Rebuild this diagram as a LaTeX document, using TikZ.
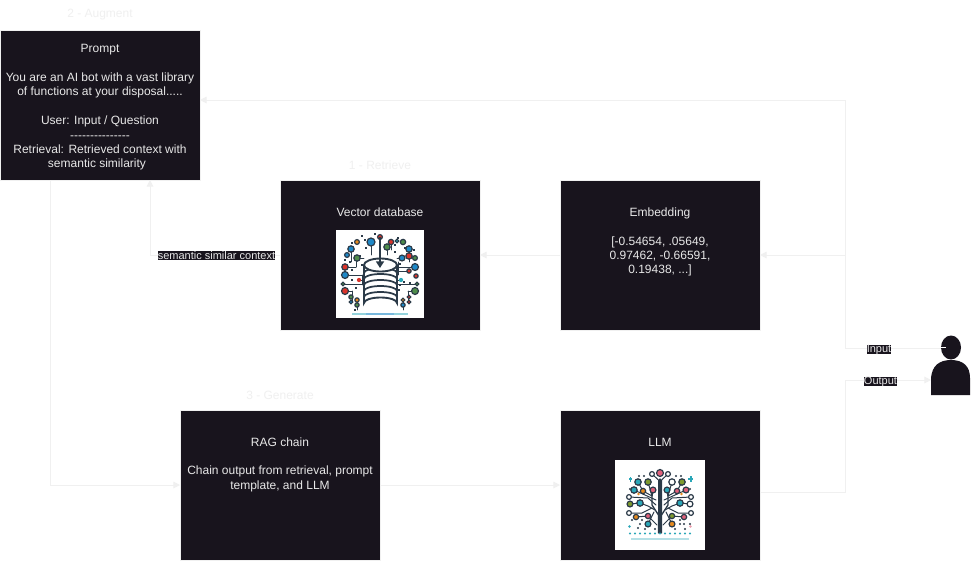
\documentclass[tikz,border=0pt]{standalone}
\usepackage{fontspec}
\setmainfont{Liberation Sans}
\usetikzlibrary{calc,arrows.meta}
\definecolor{boxdark}{HTML}{18141D}
\definecolor{pale}{HTML}{F0F0F0}
\definecolor{boxtext}{HTML}{E8E8E8}
\definecolor{icondark}{HTML}{2B3A48}
\definecolor{ired}{HTML}{D9342B}
\definecolor{iblue}{HTML}{1E88C7}
\definecolor{igreen}{HTML}{4E8C4A}
\definecolor{iorange}{HTML}{E58A1F}
\definecolor{iteal}{HTML}{2AA7B8}
\definecolor{ipink}{HTML}{E0607A}
\definecolor{iolive}{HTML}{7E9A2E}
\tikzset{
  panel/.style={draw=pale,line width=0.3pt,fill=boxdark,minimum width=150pt,minimum height=112.5pt,inner sep=0pt},
  paneltext/.style={text=boxtext,align=center,inner sep=0pt,font=\fontsize{9}{10.8}\selectfont},
  link/.style={draw=pale,line width=0.75pt,-{Triangle[length=5pt,width=5pt]}},
  tag/.style={fill=boxdark,text=boxtext,inner sep=0pt,font=\fontsize{8.25}{9.9}\selectfont},
  stage/.style={text=pale,inner sep=0pt,font=\fontsize{9}{11}\selectfont},
  dotnode/.style={fill=#1,draw=icondark,line width=0.9pt},
  wire/.style={draw=icondark,line width=0.75pt,line cap=round,line join=round}
}
\newcommand{\ring}[4]{\fill[dotnode=#3] (#1,#2) circle (#4);}
\begin{document}
\begin{tikzpicture}[x=0.75pt,y=-0.75pt]
\useasboundingbox (0,0) rectangle (971,561);
\fill[white] (0,0) rectangle (971,561);

\coordinate (userin) at (946,348);
\coordinate (userout) at (931,380);
\coordinate (busin) at (845,348);
\coordinate (busout) at (845,492);
\coordinate (promptin) at (200,100);
\coordinate (promptup) at (150,180);
\coordinate (promptdown) at (50,180);
\coordinate (embedin) at (760,255);
\coordinate (embedout) at (560,255);
\coordinate (vdbin) at (480,255);
\coordinate (vdbout) at (280,255);
\coordinate (ragin) at (180,485);
\coordinate (ragout) at (380,485);
\coordinate (llmin) at (560,485);
\coordinate (llmout) at (760,492);

\draw[link] (userin) -- (busin) -- (busin |- promptin) -- (promptin);
\draw[link] (busin |- embedin) -- (embedin);
\draw[link] (embedout) -- (vdbin);
\draw[link] (vdbout) -- (promptup |- vdbout) -- (promptup);
\draw[link] (promptdown) -- (promptdown |- ragin) -- (ragin);
\draw[link] (ragout) -- (llmin);
\draw[link] (llmout) -- (busout) -- (busout |- userout) -- (userout);

% panels
\node[panel,anchor=north west] (prompt) at (0.4,30.4) {};
\node[panel,anchor=north west] (vdb) at (280.4,180.4) {};
\node[panel,anchor=north west] (embed) at (560.4,180.4) {};
\node[panel,anchor=north west] (rag) at (180.4,410.4) {};
\node[panel,anchor=north west] (llm) at (560.4,410.4) {};

% panel texts
\node[paneltext] (prompttext) at (100,107.5) {Prompt\\ \\You are an AI bot with a vast library\\of functions at your disposal.....\\ \\User: Input / Question\\{-}{-}{-}{-}{-}{-}{-}{-}{-}{-}{-}{-}{-}{-}{-}\\Retrieval: Retrieved context with\\semantic similarity\hspace*{4.5pt}};
\node[paneltext] (vdbtitle) at (380,212) {Vector database};
\node[paneltext] (embedtext) at (660,242) {Embedding\\ \\{[}-0.54654, .05649,\\0.97462, -0.66591,\\0.19438, ...]};
\node[paneltext] (ragtext) at (280,464.5) {RAG chain\\ \\Chain output from retrieval, prompt\\template, and LLM};
\node[paneltext] (llmtitle) at (660,442) {LLM};

% stage labels
\node[stage] (s2) at (100,15) {2 - Augment};
\node[stage] (s1) at (380,165) {1 - Retrieve};
\node[stage] (s3) at (280,395) {3 - Generate};

% connector labels
\node[tag] (lsem) at (216.5,255.5) {semantic similar context};
\node[tag] (lin) at (879,349.5) {Input};
\node[tag] (lout) at (880.5,381.5) {Output};

% user
\fill[boxdark] (951,347.5) ellipse (10 and 12);
\draw[draw=white,line width=0.75pt] (941,347.5) -- (946,347.5);
\fill[boxdark] (931,395) -- (931,378) .. controls (932,366) and (939,360) .. (951,360) .. controls (963,360) and (970,366) .. (970,378) -- (970,395) -- cycle;

% --- vector database icon
\fill[white] (336,230) rectangle (424,318);
\foreach \a/\b/\c in {343/284/364,345/275/364,345/291/352,417/284/397,415/267/397,415/291/408,345/267/356,357/258/364,402/258/397,409/271/397,359/280/364,401/280/397}{
  \draw[wire,line width=0.6pt] (\a,\b) -- (\c,\b);
}
\foreach \a/\b/\c in {352/291/302,408/291/302,357/300/310,403/300/310,356/267/258,351/249/262,409/249/262,371/242/255,387/247/255,391/242/250,362/275/285,398/275/262}{
  \draw[wire,line width=0.6pt] (\a,\b) -- (\a,\c);
}
\foreach \a/\b in {352/243,362/236,366/248,350/262,352/270,362/265,352/280,356/288,352/296,365/240,375/234,398/238,405/248,395/252,400/264,404/282,410/283,399/290,408/302,355/310,345/260,414/250,360/256,395/245,400/285}{
  \fill[icondark] (\a-.8,\b-.8) rectangle (\a+.8,\b+.8);
}
\ring{380}{237}{ired}{1.8pt}
\ring{371}{242}{iblue}{3pt}
\ring{357}{242}{iorange}{1.8pt}
\ring{351}{249}{iblue}{2.4pt}
\ring{387}{247}{igreen}{2.4pt}
\ring{391}{242}{ired}{2pt}
\ring{403}{242}{igreen}{2pt}
\ring{397}{241}{iteal}{1.4pt}
\ring{409}{249}{iblue}{2.4pt}
\ring{347}{255}{iblue}{1.8pt}
\ring{357}{258}{igreen}{2.4pt}
\ring{409}{256}{ired}{2.4pt}
\ring{402}{258}{iblue}{2.2pt}
\ring{415}{258}{igreen}{1.8pt}
\ring{345}{267}{ired}{2.4pt}
\ring{415}{267}{iblue}{2.6pt}
\ring{345}{275}{iblue}{2.6pt}
\ring{409}{271}{ired}{1.6pt}
\ring{416}{276}{ired}{1.6pt}
\ring{343}{284}{igreen}{1.4pt}
\ring{417}{284}{igreen}{1.4pt}
\ring{345}{291}{ired}{2.6pt}
\ring{415}{291}{igreen}{2.6pt}
\ring{351}{297}{igreen}{1.6pt}
\ring{357}{300}{iorange}{1.6pt}
\ring{351}{302}{iblue}{1.4pt}
\ring{357}{305}{igreen}{1.6pt}
\ring{403}{300}{iorange}{1.4pt}
\ring{409}{297}{ired}{1.4pt}
\ring{409}{302}{ired}{1.4pt}
\ring{403}{305}{iblue}{1.6pt}
\fill[ired] (359,280) circle (1.6pt);
\fill[iteal] (401,280) circle (1.6pt);
% cylinder
\draw[icondark,line width=1.4pt,fill=white] (364,265) -- (364,303) arc[start angle=180,end angle=360,x radius=16.5,y radius=5.5] -- (397,265);
\foreach \yy in {273,279,285,291,297}{
  \draw[icondark,line width=1.3pt] (364,\yy) arc[start angle=180,end angle=360,x radius=16.5,y radius=5];
}
\draw[icondark,line width=1.4pt,fill=white] (380.5,265) ellipse (16.5 and 6.5);
\draw[icondark,line width=1.6pt,-{Triangle[length=5pt,width=6pt]}] (380,237) -- (380,268);
\fill[iteal!50] (352,313) rectangle (408,314.5);
\fill[iblue!60] (366,312.5) rectangle (394,315);

% --- LLM icon
\fill[white] (615,460) rectangle (705,550);
\foreach \sg in {-1,1}{
  \begin{scope}[shift={(660,0)},xscale=\sg]
  \draw[wire,line width=1pt] (1.5,533) -- (1.5,515) -- (8,505) -- (8,496) -- (7,490);
  \draw[wire] (3,525) -- (12,516);
  \draw[wire] (1.5,515) -- (1.5,480) -- (8,474);
  \draw[wire] (8,496) -- (12,482);
  \draw[wire] (8,496) -- (17,491) -- (22,482);
  \draw[wire] (4,500) -- (26,490);
  \draw[wire] (4,505) -- (12,498) -- (31,497);
  \draw[wire] (5,510) -- (12,506) -- (20,503);
  \draw[wire] (20,503) -- (30,504);
  \draw[wire] (8,508) -- (18,513) -- (31,513);
  \draw[wire] (12,516) -- (24,517);
  \draw[wire] (6,512) -- (12,524);
  \end{scope}
}
\draw[wire,line width=1pt] (660,479) -- (660,533);
\ring{660}{473}{ipink}{2.6pt}
\ring{652}{474}{white}{1.8pt}
\ring{668}{474}{white}{1.8pt}
\ring{638}{482}{iteal}{2.4pt}
\ring{648}{482}{iolive}{2.4pt}
\ring{672}{482}{white}{2.4pt}
\ring{682}{482}{iolive}{2.4pt}
\ring{634}{490}{iteal}{2.4pt}
\ring{643}{491}{iorange}{2pt}
\ring{653}{490}{ipink}{2.2pt}
\ring{667}{490}{iteal}{2.2pt}
\ring{677}{491}{ipink}{2pt}
\ring{686}{490}{ipink}{2.2pt}
\ring{629}{497}{white}{1.8pt}
\ring{691}{497}{white}{1.8pt}
\ring{630}{504}{iolive}{2.2pt}
\ring{640}{503}{iteal}{2.4pt}
\ring{680}{503}{iteal}{2.4pt}
\ring{690}{504}{white}{2.2pt}
\ring{629}{513}{white}{1.8pt}
\ring{691}{513}{white}{1.8pt}
\ring{636}{517}{iorange}{2pt}
\ring{648}{516}{ipink}{2pt}
\ring{672}{516}{iolive}{2pt}
\ring{684}{517}{ipink}{2pt}
\ring{648}{524}{iteal}{2.2pt}
\ring{672}{524}{iorange}{2.2pt}
\foreach \a/\b in {639/476,644/476,676/476,681/476,630/489,690/489,632/520,640/524,638/528,645/529,655/529,680/524,675/529,685/529,690/524,680/520,642/520,684/524}{
  \fill[icondark] (\a,\b) circle (0.9pt);
}
\foreach \a in {630,635,...,690}{
  \fill[iteal] (\a,533.5) circle (0.9pt);
}
\fill[iteal!35] (631,538) rectangle (689,540);
\fill[iteal] (628.5,478) rectangle (631.5,480);
\fill[iteal] (629.5,476.5) rectangle (630.5,481.5);
\fill[iteal] (688,477.5) rectangle (693,479.5);
\fill[iteal] (689.5,475.5) rectangle (691.5,481.5);
\fill[iorange] (638.5,494) circle (1pt);
\fill[iorange] (681.5,494) circle (1pt);
\fill[iteal] (629.5,526.5) circle (1pt);
\fill[ipink!60] (690.5,526.5) circle (1pt);
\end{tikzpicture}
\end{document}
